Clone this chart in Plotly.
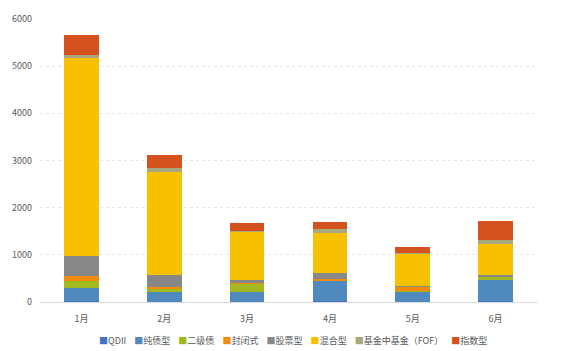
import plotly.graph_objects as go

months = ["1月", "2月", "3月", "4月", "5月", "6月"]
series_names = ["QDII", "纯债型", "二级债", "封闭式", "股票型", "混合型", "基金中基金（FOF）", "指数型"]
qdii = [15, 10, 10, 15, 10, 15]
chunzhai = [275, 212, 197, 435, 218, 450]
erjizhai = [146, 55, 187, 10, 10, 70]
fengbi = [124, 40, 10, 38, 81, 5]
gupiao = [415, 263, 52, 124, 27, 41]
hunhe = [4191, 2179, 1038, 851, 685, 649]
fof = [62, 83, 10, 77, 10, 92]
zhishu = [436, 278, 172, 145, 131, 394]
y_ticks = [0, 1000, 2000, 3000, 4000, 5000, 6000]

colors = ["#4472C4", "#4F89BE", "#A2B820", "#EF8C0E", "#878787", "#F7C100", "#A8A87E", "#D5521E"]
values = [qdii, chunzhai, erjizhai, fengbi, gupiao, hunhe, fof, zhishu]

fig = go.Figure()
for name, vals, col in zip(series_names, values, colors):
    fig.add_trace(go.Bar(x=months, y=vals, name=name, marker=dict(color=col, line=dict(width=0))))

legend_text = "&nbsp;&nbsp;&nbsp;&nbsp;".join(
    f"<span style='color:{c}'>■</span>{n}" for n, c in zip(series_names, colors)
)
fig.add_annotation(text=legend_text, xref="paper", yref="paper", x=0.51, y=-0.135,
                   xanchor="center", yanchor="middle", showarrow=False,
                   font=dict(size=9, color="#595959", family="Noto Sans CJK SC"))

fig.update_layout(
    barmode="stack", bargap=0.58, showlegend=False,
    width=587, height=351,
    margin=dict(l=33, r=50, t=13, b=49),
    plot_bgcolor="white", paper_bgcolor="white",
    font=dict(family="Noto Sans CJK SC", size=9, color="#595959"),
    xaxis=dict(showline=True, linecolor="#D9D9D9", linewidth=1, ticks="", tickfont=dict(size=9),
               ticklabelstandoff=8),
    yaxis=dict(range=[0, 6000], tickvals=y_ticks, showgrid=True, gridcolor="#E6E6E6",
               griddash="dot", zeroline=False, ticks="", tickfont=dict(size=9), ticklabelstandoff=7),
)
fig.write_html("out.html")
